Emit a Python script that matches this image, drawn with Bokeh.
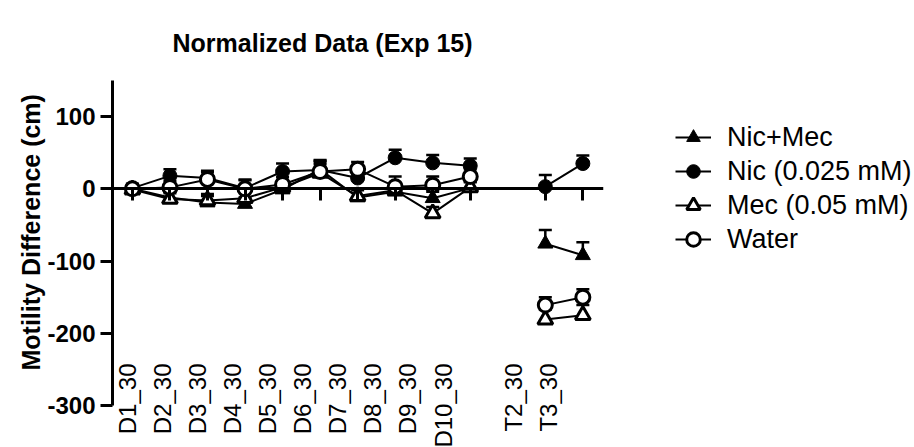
import math
from bokeh.plotting import figure
from bokeh.models import (ColumnDataSource, Range1d, FixedTicker, LinearAxis,
                          Whisker, TeeHead, Legend, LegendItem, Title)
from bokeh.embed import file_html
from bokeh.resources import INLINE

# ---- data -------------------------------------------------------------
categories = ["D1_30", "D2_30", "D3_30", "D4_30", "D5_30", "D6_30", "D7_30",
              "D8_30", "D9_30", "D10_30", "T2_30", "T3_30"]
positions = [1, 2, 3, 4, 5, 6, 7, 8, 9, 10, 12, 13]

nic_mec = [0, -12, -19, -21, -1, 27, -12, -4, -13, 1, -76, -92]
nic_mec_err = [5, 8, 9, 9, 8, 12, 10, 10, 9, 8, 19, 18]

nic = [1, 18, 15, 1, 24, 26, 15, 43, 36, 32, 3, 35]
nic_err = [6, 9, 10, 12, 11, 14, 10, 11, 11, 10, 16, 11]

mec = [-1, -14, -16, -13, 2, 22, -10, -2, -34, 2, -181, -175]
mec_err = [5, 8, 9, 9, 8, 12, 10, 10, 9, 8, 14, 14]

water = [0, 2, 13, 0, 6, 24, 27, 3, 5, 17, -161, -150]
water_err = [5, 9, 10, 12, 10, 13, 10, 14, 12, 10, 11, 11]

y_ticks = [-300, -200, -100, 0, 100]
y_tick_labels = ["-300", "-200", "-100", "0", "100"]

FONT = "Liberation Sans"

p = figure(frame_width=491, frame_height=325,
           output_backend="svg", toolbar_location=None,
           x_range=Range1d(0.47, 13.55), y_range=Range1d(-300, 150),
           x_axis_location=None, y_axis_location="left",
           min_border_left=112, min_border_right=0,
           min_border_top=80, min_border_bottom=0)
p.grid.visible = False
p.outline_line_color = None
p.background_fill_color = "white"
p.border_fill_color = "white"

# title
p.title.text = "Normalized Data (Exp 15)"
p.title.text_font = FONT
p.title.text_font_size = "25px"
p.title.text_font_style = "bold"
p.title.text_color = "black"
p.title.align = "left"
p.title.offset = 60
p.title.standoff = 48

# y axis
ya = p.yaxis[0]
ya.ticker = FixedTicker(ticks=y_ticks)
ya.major_label_overrides = dict(zip(y_ticks, y_tick_labels))
ya.axis_line_width = 3
ya.major_tick_line_width = 3
ya.major_tick_out = 12
ya.major_tick_in = 0
ya.minor_tick_line_color = None
ya.major_label_text_font = FONT
ya.major_label_text_font_size = "24px"
ya.major_label_text_font_style = "bold"
ya.major_label_text_color = "black"
ya.major_label_standoff = 5

# y axis title, set a little above the frame's middle
p.add_layout(Title(text="Motility Difference (cm)", align="left", offset=35,
                   standoff=0, text_font=FONT, text_font_size="25px",
                   text_font_style="bold", text_color="black"), "left")

# x axis drawn across y = 0, ticks pointing down, no labels of its own
zero_axis = LinearAxis(ticker=FixedTicker(ticks=positions), fixed_location=0,
                       major_tick_in=12, major_tick_out=0,
                       major_tick_line_width=3, axis_line_width=3,
                       minor_tick_line_color=None,
                       major_label_text_color=None,
                       major_label_standoff=0)
p.add_layout(zero_axis, "above")

# category labels along the bottom
p.extra_x_ranges = {"labels": Range1d(0.581, 14.57)}
label_axis = LinearAxis(x_range_name="labels",
                        ticker=FixedTicker(ticks=positions),
                        major_label_overrides={pos: cat for pos, cat in zip(positions, categories)},
                        axis_line_color=None, major_tick_line_color=None,
                        minor_tick_line_color=None,
                        major_tick_out=0, major_tick_in=0,
                        major_label_orientation=math.pi / 2,
                        major_label_standoff=-42,
                        major_label_text_font=FONT,
                        major_label_text_font_size="24px",
                        major_label_text_color="black")
p.add_layout(label_axis, "below")


def broken(xs, ys):
    """Insert NaN where the category positions jump, so the line breaks."""
    bx, by = [], []
    for i, (x, y) in enumerate(zip(xs, ys)):
        if i > 0 and x - xs[i - 1] > 1:
            bx.append(float("nan"))
            by.append(float("nan"))
        bx.append(x)
        by.append(y)
    return bx, by


series = [
    ("Nic+Mec", nic_mec, nic_mec_err, "triangle", "black", 15),
    ("Nic (0.025 mM)", nic, nic_err, "circle", "black", 14),
    ("Mec (0.05 mM)", mec, mec_err, "triangle", "white", 15),
    ("Water", water, water_err, "circle", "white", 14),
]

items = []
for name, vals, errs, marker, fill, size in series:
    src = ColumnDataSource(dict(x=positions, y=vals,
                                upper=[v + e for v, e in zip(vals, errs)]))
    p.add_layout(Whisker(source=src, base="x", upper="upper", lower="y",
                         dimension="height", line_color="black", line_width=2.5,
                         upper_head=TeeHead(size=13, line_width=2.5, line_color="black"),
                         lower_head=None))
    lx, ly = broken(positions, vals)
    lr = p.line(lx, ly, line_color="black", line_width=2)
    sr = p.scatter("x", "y", source=src, marker=marker, size=size,
                   fill_color=fill, line_color="black",
                   line_width=3 if fill == "white" else 1)
    items.append(LegendItem(label=name, renderers=[lr, sr]))

legend = Legend(items=items, location=(72, 149), padding=0, margin=0,
                spacing=0, glyph_width=36, glyph_height=34, label_height=34,
                label_standoff=16, label_text_font=FONT,
                label_text_font_size="27px", label_text_color="black",
                border_line_color=None, background_fill_alpha=0)
p.add_layout(legend, "right")

open("out.html", "w").write(file_html(p, INLINE))
